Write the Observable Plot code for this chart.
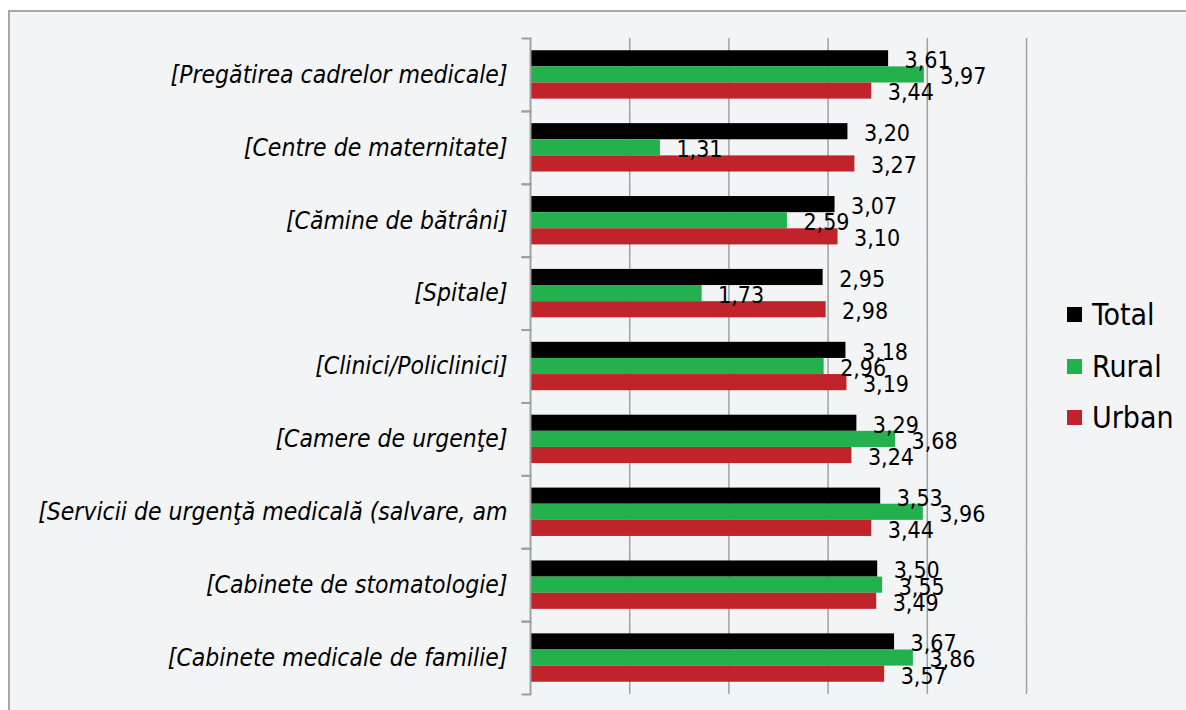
<!DOCTYPE html>
<html><head><meta charset="utf-8">
<script src="https://cdn.jsdelivr.net/npm/d3@7"></script>
<script src="https://cdn.jsdelivr.net/npm/@observablehq/plot@0.6"></script>
<style>
body{margin:0;background:#fff;}
#wrap{position:relative;width:1186px;height:710px;overflow:hidden;font-family:"DejaVu Sans Condensed","DejaVu Sans",sans-serif;}
#frame{position:absolute;left:8px;top:10px;width:1200px;height:720px;border-left:2px solid #a8a8a8;border-top:2px solid #a8a8a8;background:#f3f4f6;}
#chart{position:absolute;left:0;top:0;}
#legend{position:absolute;left:1067px;top:289px;}
.item{display:flex;align-items:center;height:51.5px;font-size:30px;color:#000;}
.sw{width:15px;height:15px;margin-right:10px;}
</style></head>
<body>
<div id="wrap"><div id="frame"></div><div id="chart"></div><div id="legend"></div></div>
<script>
const categories = [
  "[Pregătirea cadrelor medicale]",
  "[Centre de maternitate]",
  "[Cămine de bătrâni]",
  "[Spitale]",
  "[Clinici/Policlinici]",
  "[Camere de urgenţe]",
  "[Servicii de urgenţă medicală (salvare, am",
  "[Cabinete de stomatologie]",
  "[Cabinete medicale de familie]"
];
const seriesNames = ["Total", "Rural", "Urban"];
const seriesColors = ["#000000", "#23b14d", "#c1232a"];
const totalValues = [3.61, 3.20, 3.07, 2.95, 3.18, 3.29, 3.53, 3.50, 3.67];
const ruralValues = [3.97, 1.31, 2.59, 1.73, 2.96, 3.68, 3.96, 3.55, 3.86];
const urbanValues = [3.44, 3.27, 3.10, 2.98, 3.19, 3.24, 3.44, 3.49, 3.57];
const xTicks = [1, 2, 3, 4, 5];

const seriesValues = [totalValues, ruralValues, urbanValues];
const data = [];
categories.forEach((c, i) => seriesNames.forEach((s, j) => data.push({category: c, series: s, value: seriesValues[j][i]})));
const fmt = v => v.toFixed(2).replace(".", ",");
const font = '"DejaVu Sans Condensed","DejaVu Sans",sans-serif';

const chart = Plot.plot({
  width: 1186, height: 710,
  marginLeft: 530, marginRight: 160, marginTop: 38, marginBottom: 16,
  style: {background: "transparent", fontFamily: font, color: "#000"},
  x: {domain: [0, 5], axis: null},
  y: {domain: seriesNames, axis: null, paddingInner: 0, paddingOuter: 0.76, round: false},
  fy: {domain: categories, padding: 0, axis: null, round: false},
  color: {domain: seriesNames, range: seriesColors},
  marks: [
    Plot.gridX(xTicks, {stroke: "#a0a0a0", strokeOpacity: 1, strokeWidth: 1.5}),
    Plot.barX(data, {fy: "category", y: "series", x: "value", fill: "series", insetTop: 0, insetBottom: 0}),
    Plot.ruleX([0], {stroke: "#a0a0a0", strokeWidth: 2}),
    Plot.frame({anchor: "top", insetLeft: -8, insetRight: 496, stroke: "#a0a0a0", strokeWidth: 2}),
    Plot.frame({anchor: "bottom", insetLeft: -8, insetRight: 496, stroke: "#a0a0a0", strokeWidth: 2}),
    Plot.text(data, {fy: "category", y: "series", x: "value", text: d => fmt(d.value), textAnchor: "start", dx: 16, dy: 2, fontSize: 23, fill: "#000"}),
    Plot.axisFy({anchor: "left", tickSize: 0, tickPadding: 23, fontSize: 24.5, fontStyle: "italic", label: null})
  ]
});
document.getElementById("chart").appendChild(chart);

const legend = document.getElementById("legend");
seriesNames.forEach((s, i) => {
  const item = document.createElement("div");
  item.className = "item";
  item.innerHTML = `<div class="sw" style="background:${seriesColors[i]}"></div><span>${s}</span>`;
  legend.appendChild(item);
});
</script>
</body></html>
